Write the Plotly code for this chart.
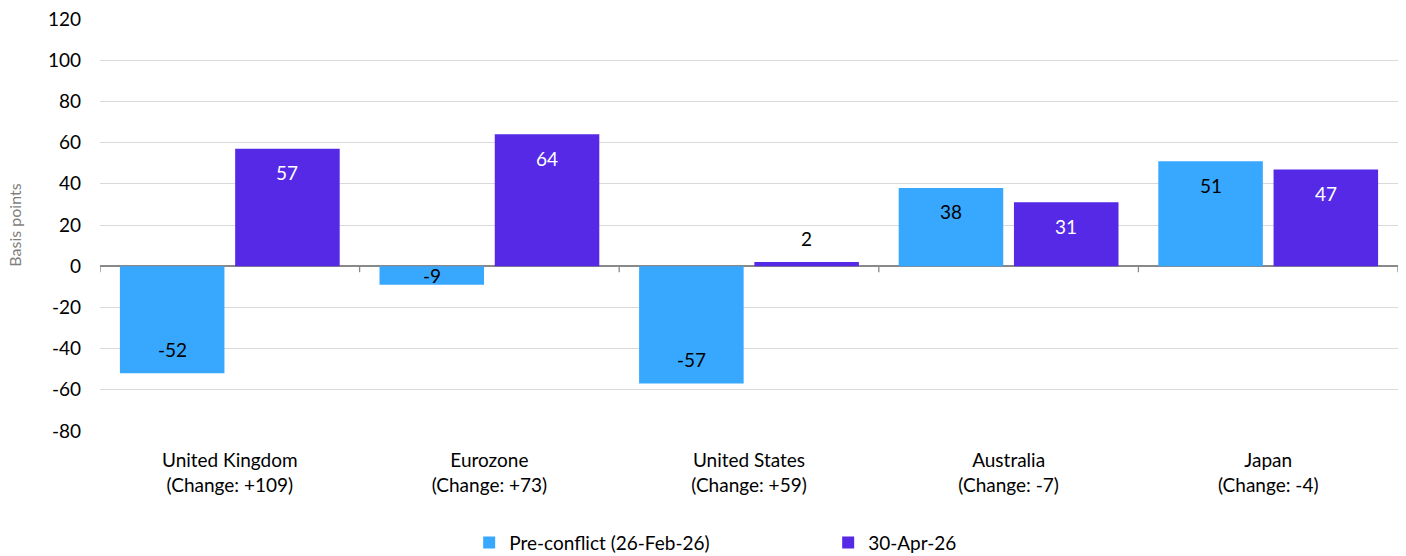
import plotly.graph_objects as go

# Data
countries = ["United Kingdom", "Eurozone", "United States", "Australia", "Japan"]
pre_conflict = [-52, -9, -57, 38, 51]
apr_30 = [57, 64, 2, 31, 47]
series_names = ["Pre-conflict (26-Feb-26)", "30-Apr-26"]
y_ticks = [-80, -60, -40, -20, 0, 20, 40, 60, 80, 100, 120]

BLUE = "#38A8FF"
PURPLE = "#5529E6"
FONT = "Lato, 'Open Sans', sans-serif"
FS = 19

changes = [b - a for a, b in zip(pre_conflict, apr_30)]
cat_labels = [f"{c}<br>(Change: {d:+d})" for c, d in zip(countries, changes)]
x_idx = list(range(len(countries)))

fig = go.Figure()
fig.add_trace(go.Bar(x=x_idx, y=pre_conflict, name=series_names[0],
                     marker=dict(color=BLUE, line=dict(width=0))))
fig.add_trace(go.Bar(x=x_idx, y=apr_30, name=series_names[1],
                     marker=dict(color=PURPLE, line=dict(width=0))))

W, H = 1406, 556
M_L, M_R, M_T, M_B = 100, 8, 19, 125
plot_w = W - M_L - M_R
plot_h = H - M_T - M_B
y_min, y_max = -80, 120
px_per_unit = plot_h / (y_max - y_min)
bargap = 0.112
bargroupgap = 0.093
cat_w = plot_w / len(countries)
slot = (1 - bargap) * cat_w / 2

# value labels near the inside end of each bar
annotations = []
for vals, sign, txt_color in ((pre_conflict, -1, "#000000"), (apr_30, 1, "#FFFFFF")):
    for i, v in enumerate(vals):
        half = abs(v) * px_per_unit / 2
        direction = 1 if v >= 0 else -1
        if abs(v) < 5:
            shift = 24 * direction   # too short: label sits just outside
            color = "#000000"
        else:
            shift = -min(24, half) * direction
            color = txt_color
        annotations.append(dict(
            x=i, y=v, xref="x", yref="y", text=str(v), showarrow=False,
            xshift=sign * slot / 2, yshift=shift, yanchor="middle",
            font=dict(family=FONT, size=FS, color=color)))

# small tick marks on the zero line between the categories
shapes = []
for k in range(len(countries) + 1):
    shapes.append(dict(type="line", xref="x", yref="y", x0=k - 0.5, x1=k - 0.5,
                       ysizemode="pixel", yanchor=0, y0=0, y1=-6,
                       line=dict(color="#898989", width=1.3)))

fig.update_layout(
    width=W, height=H,
    margin=dict(l=M_L, r=M_R, t=M_T, b=M_B),
    paper_bgcolor="white", plot_bgcolor="white",
    barmode="group", bargap=bargap, bargroupgap=bargroupgap,
    font=dict(family=FONT, size=FS, color="#000000"),
    showlegend=True,
    legend=dict(orientation="h", x=0.561, xanchor="center",
                yref="container", y=0.024, yanchor="middle",
                font=dict(family=FONT, size=FS, color="#000000"),
                entrywidth=314, entrywidthmode="pixels",
                itemclick=False, itemdoubleclick=False),
    annotations=annotations,
    shapes=shapes,
)
fig.update_xaxes(
    tickmode="array", tickvals=x_idx, ticktext=cat_labels,
    range=[-0.5, len(countries) - 0.5],
    showgrid=False, showline=False, ticks="", zeroline=False,
    ticklabelstandoff=16,
    tickfont=dict(family=FONT, size=FS, color="#000000"),
)
fig.update_yaxes(
    range=[y_min, y_max], tickmode="array", tickvals=y_ticks,
    ticktext=[str(v) for v in y_ticks],
    showgrid=True, gridcolor="#D9D9D9", gridwidth=1.3,
    zeroline=True, zerolinecolor="#898989", zerolinewidth=1.5,
    showline=False, ticks="", ticklabelstandoff=18,
    tickfont=dict(family=FONT, size=FS, color="#000000"),
    title=dict(text="Basis points", standoff=22,
               font=dict(family=FONT, size=16, color="#7F7F7F")),
)

fig.write_html("out.html")
